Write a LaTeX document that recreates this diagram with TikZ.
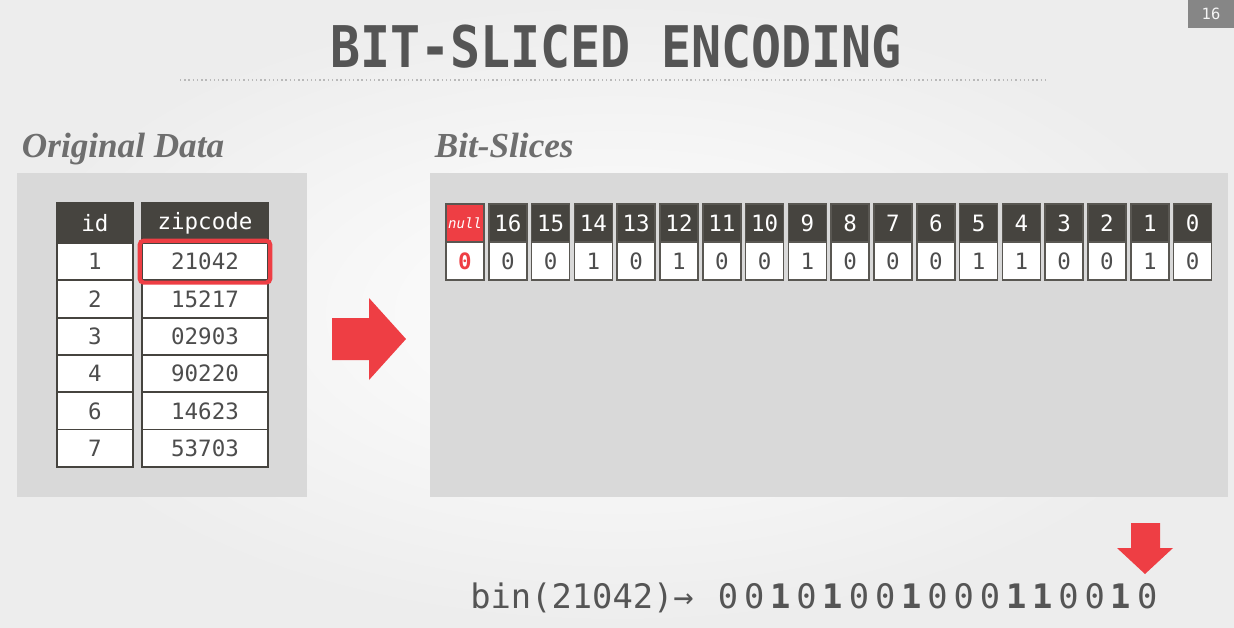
\documentclass[tikz,border=0pt]{standalone}
\usepackage{fontspec}
\setmonofont{DejaVu Sans Mono}
\newfontfamily\slidehead{Liberation Serif}
\usetikzlibrary{fit}
\definecolor{slideBg}{HTML}{EDEDED}
\definecolor{panelGray}{HTML}{D9D9D9}
\definecolor{hdrDark}{HTML}{46443F}
\definecolor{hiRed}{HTML}{EE3E44}
\definecolor{inkGray}{HTML}{555555}
\definecolor{cellInk}{HTML}{4D4D4D}
\tikzset{
  hdr/.style={draw=hdrDark, fill=hdrDark, text=white, line width=1.3pt, inner sep=0pt, minimum height=1cm, font=\ttfamily\fontsize{16}{16}\selectfont},
  cell/.style={draw=hdrDark, fill=white, text=cellInk, line width=1.3pt, inner sep=0pt, minimum height=0.9325cm, font=\ttfamily\fontsize{16}{16}\selectfont},
  bithdr/.style={draw=hdrDark!90, fill=hdrDark, text=white, line width=1.2pt, inner sep=0pt, minimum width=0.95cm, minimum height=0.95cm, font=\ttfamily\fontsize{16}{16}\selectfont},
  bitval/.style={draw=hdrDark!90, fill=white, text=cellInk, line width=1.2pt, inner sep=0pt, minimum width=0.95cm, minimum height=0.95cm, font=\ttfamily\fontsize{16}{16}\selectfont},
  sectitle/.style={anchor=base west, text=inkGray!85, font=\slidehead\bfseries\itshape\fontsize{25}{25}\selectfont},
}

\begin{document}
\begin{tikzpicture}[x=0.025cm, y=-0.025cm]
\useasboundingbox (0,0) rectangle (1234,627);
\shade[inner color=white, outer color=slideBg] (0,0) rectangle (1234,627);
\fill[gray!95] (1188,0) rectangle (1234,28); \node[text=white!92!gray, font=\ttfamily\fontsize{11}{11}\selectfont] (pagenum) at (1211,14) {16};
\node[anchor=base, text=inkGray, font=\ttfamily\bfseries\fontsize{35.5}{36}\selectfont] (title) at (616,67) {\scalebox{1}[1.15]{BIT-SLICED ENCODING}};
\draw[gray!55, dotted, line width=1pt] (180,80) -- (1048,80);

\node[sectitle] (origlbl) at (17,157) {Original Data};
\node[sectitle] (slicelbl) at (430,157) {Bit-Slices};
\fill[panelGray] (17,173) rectangle (307,497); \fill[panelGray] (430,173) rectangle (1228,497);

\node[hdr, minimum width=1.9cm] (id-hdr) at (95,223) {id}; \node[hdr, minimum width=3.15cm] (zip-hdr) at (205,223) {zipcode};
\foreach \id/\zip [count=\r] in {1/21042,2/15217,3/02903,4/90220,6/14623,7/53703} {
  \node[cell, minimum width=1.9cm] (id-\r) at (95,{224.35+37.3*\r}) {\id};
  \node[cell, minimum width=3.15cm] (zip-\r) at (205,{224.35+37.3*\r}) {\zip};
}
\node[fit=(zip-1), draw=hiRed, line width=3pt, rounded corners=3pt, inner sep=1pt] (hilite) {};

\fill[hiRed] (332,318) -- (369,318) -- (369,298) -- (406,339) -- (369,380) -- (369,360) -- (332,360) -- cycle;

\node[bithdr, fill=hiRed, font=\ttfamily\itshape\fontsize{10}{10}\selectfont] (bh-0) at (465,223) {null};
\node[bitval, text=hiRed, font=\ttfamily\bfseries\fontsize{16}{16}\selectfont] (bv-0) at (465,261) {0};
\foreach \lbl/\val [count=\i] in {16/0,15/0,14/1,13/0,12/1,11/0,10/0,9/1,8/0,7/0,6/0,5/1,4/1,3/0,2/0,1/1,0/0} {
  \node[bithdr] (bh-\i) at ({465+42.8*\i},223) {\lbl};
  \node[bitval] (bv-\i) at ({465+42.8*\i},261) {\val};
}

\fill[hiRed] (1131,523) -- (1160,523) -- (1160,548) -- (1173,548) -- (1145,574) -- (1117,548) -- (1131,548) -- cycle;
\node[anchor=base west, inner sep=0pt, text=inkGray, font=\ttfamily\fontsize{24}{24}\selectfont] (binlbl) at (470,608) {bin(21042)→};
\foreach \b [count=\i from 0] in {0,0,1,0,1,0,0,1,0,0,0,1,1,0,0,1,0}
  \node[anchor=base, inner sep=0pt, text=inkGray, font=\ttfamily\fontsize{24}{24}\selectfont] (bit-\i) at ({728+26.2*\i},608) {\ifnum\b=1 \bfseries\fi\b};
\end{tikzpicture}
\end{document}
